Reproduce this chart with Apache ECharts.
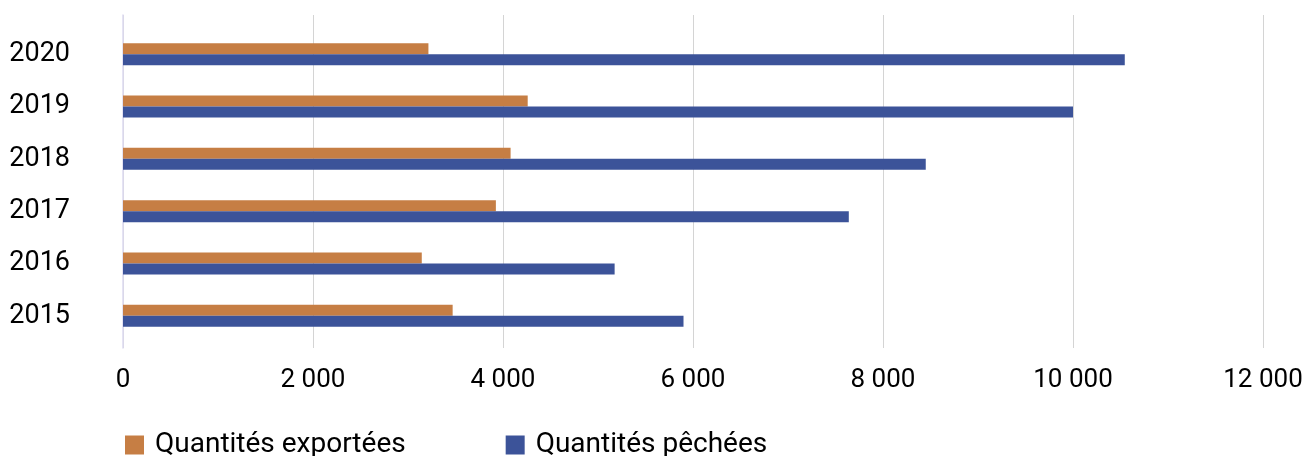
<!DOCTYPE html>
<html>
<head>
<meta charset="utf-8">
<script src="https://cdn.jsdelivr.net/npm/echarts@6/dist/echarts.min.js"></script>
<style>
  html, body { margin: 0; padding: 0; background: #ffffff; }
  #chart { width: 1307px; height: 456px; }
</style>
</head>
<body>
<div id="chart"></div>
<script>
// Years on the category axis (bottom to top)
const years = ['2015', '2016', '2017', '2018', '2019', '2020'];
// Quantities exported per year
const exported = [3470, 3145, 3925, 4080, 4260, 3215];
// Quantities caught per year
const caught = [5900, 5175, 7640, 8450, 10000, 10545];
// Value axis ticks
const xTicks = [0, 2000, 4000, 6000, 8000, 10000, 12000];
const seriesNames = ['Quantités exportées', 'Quantités pêchées'];

const FONT = 'Roboto';
const orange = '#C67E44';
const blue = '#3C5399';

function fmt(v) {
  return String(v).replace(/\B(?=(\d{3})+(?!\d))/g, ' ');
}

const chart = echarts.init(document.getElementById('chart'), null, { renderer: 'canvas' });

chart.setOption({
  animation: false,
  textStyle: { fontFamily: FONT },
  legend: {
    left: 120,
    top: 426,
    padding: 5,
    itemWidth: 19,
    itemHeight: 19,
    itemGap: 100,
    icon: 'rect',
    data: seriesNames,
    textStyle: { fontFamily: FONT, fontSize: 28, color: '#000000', padding: [0, 0, 0, 6] }
  },
  grid: [
    // full-height frame carrying gridlines and tick labels
    { left: 123, right: 44, top: 15, bottom: 108 },
    // bars
    { left: 123, right: 44, top: 28, height: 314 }
  ],
  xAxis: [
    {
      gridIndex: 0,
      type: 'value',
      min: xTicks[0],
      max: xTicks[xTicks.length - 1],
      interval: 2000,
      axisLine: { show: false },
      axisTick: { show: false },
      splitLine: { show: true, lineStyle: { color: '#D4D4D4', width: 1 } },
      axisLabel: {
        margin: 19,
        fontFamily: FONT,
        fontSize: 26,
        color: '#000000',
        formatter: v => fmt(v)
      }
    },
    {
      gridIndex: 1,
      type: 'value',
      min: xTicks[0],
      max: xTicks[xTicks.length - 1],
      interval: 2000,
      show: false,
      splitLine: { show: false }
    }
  ],
  yAxis: [
    {
      gridIndex: 0,
      type: 'value',
      min: 0,
      max: 1,
      axisLine: { show: true, onZero: false, lineStyle: { color: '#DCDAF0', width: 1.5 } },
      axisTick: { show: false },
      axisLabel: { show: false },
      splitLine: { show: false }
    },
    {
      gridIndex: 1,
      type: 'category',
      data: years,
      axisLine: { show: false },
      axisTick: { show: false },
      splitLine: { show: false },
      axisLabel: {
        margin: 53,
        fontFamily: FONT,
        fontSize: 27,
        color: '#000000'
      }
    }
  ],
  series: [
    {
      name: seriesNames[0],
      type: 'bar',
      xAxisIndex: 1,
      yAxisIndex: 1,
      data: exported,
      barWidth: 11,
      barGap: '0%',
      itemStyle: { color: orange }
    },
    {
      name: seriesNames[1],
      type: 'bar',
      xAxisIndex: 1,
      yAxisIndex: 1,
      data: caught,
      barWidth: 11,
      barGap: '0%',
      itemStyle: { color: blue }
    }
  ]
});
</script>
</body>
</html>
